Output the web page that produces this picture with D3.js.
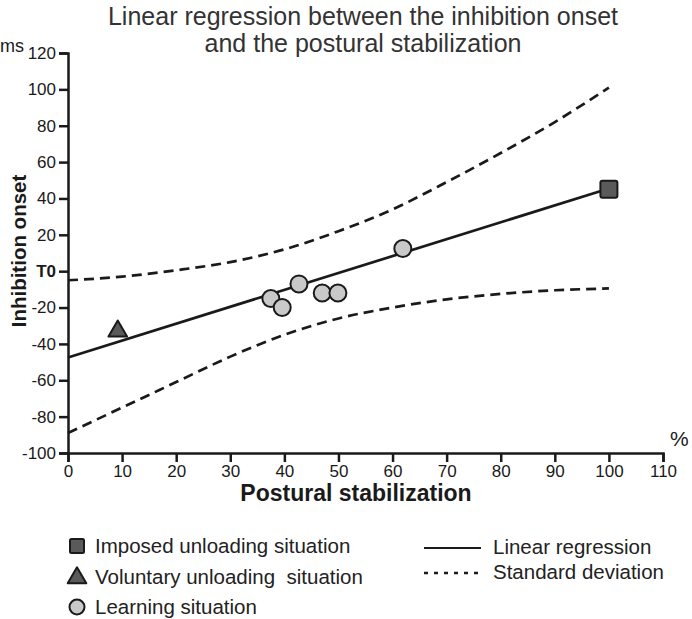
<!DOCTYPE html>
<html>
<head>
<meta charset="utf-8">
<script src="https://cdn.jsdelivr.net/npm/d3@7"></script>
<style>
  html, body { margin: 0; padding: 0; background: #fff; }
  svg { display: block; font-family: "Liberation Sans", Arial, sans-serif; }
</style>
</head>
<body>
<svg id="chart" width="692" height="619"></svg>
<script>
// ---- data ----
const xTicks = [0, 10, 20, 30, 40, 50, 60, 70, 80, 90, 100, 110];
const yTicks = [-100, -80, -60, -40, -20, 0, 20, 40, 60, 80, 100, 120];
const yTickLabels = ["-100", "-80", "-60", "-40", "-20", "T0", "20", "40", "60", "80", "100", "120"];

const imposedPoints = [{ x: 100, y: 45 }];
const voluntaryPoints = [{ x: 9.2, y: -33 }];
const learningPoints = [
  { x: 37.5, y: -15 },
  { x: 39.6, y: -20 },
  { x: 42.7, y: -7 },
  { x: 47.0, y: -12 },
  { x: 49.9, y: -12 },
  { x: 61.9, y: 12.5 }
];

const regressionX = [0, 100];
const regressionY = [-47.5, 45.5];

const bandX = [0, 10, 20, 30, 40, 50, 60, 70, 80, 90, 100];
const upperBand = [-5, -3, 0.5, 5, 12, 22, 34, 49, 65, 82, 101];
const lowerBand = [-89, -75, -61, -47, -35, -26, -20, -15.5, -12.5, -10.5, -9.5];

const titleLines = ["Linear regression between the inhibition onset", "and the postural stabilization"];
const legendMarkers = ["Imposed unloading situation", "Voluntary unloading  situation", "Learning situation"];
const legendLines = ["Linear regression", "Standard deviation"];

// ---- drawing ----
const svg = d3.select("#chart");
const x = d3.scaleLinear().domain([0, 110]).range([68, 663]);
const y = d3.scaleLinear().domain([-100, 120]).range([453, 53]);

const ink = "#1a1a1a";
const darkFill = "#5a5a5a";
const lightFill = "#c9c9c9";

// title
svg.append("g").selectAll("text").data(titleLines).join("text")
  .attr("x", 363).attr("y", (d, i) => 25 + i * 27)
  .attr("text-anchor", "middle")
  .attr("font-size", 25).attr("fill", "#333")
  .text(d => d);

// y axis
const yAxis = d3.axisLeft(y).tickValues(yTicks)
  .tickFormat((d, i) => yTickLabels[i]).tickSize(9).tickPadding(3);
const gy = svg.append("g").attr("transform", `translate(${x(0)},0)`).call(yAxis);
gy.select(".domain").attr("stroke", ink).attr("stroke-width", 2.5);
gy.selectAll(".tick line").attr("stroke", ink).attr("stroke-width", 2.5);
gy.selectAll(".tick text").attr("font-size", 17).attr("fill", ink)
  .attr("font-family", "'Liberation Sans', Arial, sans-serif")
  .attr("font-weight", d => d === 0 ? "bold" : "normal");

// x axis
const xAxis = d3.axisBottom(x).tickValues(xTicks).tickSize(9).tickPadding(3);
const gx = svg.append("g").attr("transform", `translate(0,${y(-100)})`).call(xAxis);
gx.select(".domain").attr("stroke", ink).attr("stroke-width", 2.5);
gx.selectAll(".tick line").attr("stroke", ink).attr("stroke-width", 2.5);
gx.selectAll(".tick text").attr("font-size", 17).attr("fill", ink)
  .attr("font-family", "'Liberation Sans', Arial, sans-serif");

// axis unit labels
svg.append("text").attr("x", 0).attr("y", 52).attr("font-size", 18).attr("fill", ink).text("ms");
svg.append("text").attr("x", 670).attr("y", 446).attr("font-size", 21).attr("fill", ink).text("%");

// axis titles
svg.append("text").attr("x", 356).attr("y", 501).attr("text-anchor", "middle")
  .attr("font-size", 23).attr("font-weight", "bold").attr("fill", ink)
  .text("Postural stabilization");
svg.append("text").attr("transform", "translate(26,251) rotate(-90)")
  .attr("text-anchor", "middle")
  .attr("font-size", 20.5).attr("font-weight", "bold").attr("fill", ink)
  .text("Inhibition onset");

// bands
const bandLine = d3.line().x(d => x(d[0])).y(d => y(d[1])).curve(d3.curveMonotoneX);
[upperBand, lowerBand].forEach(arr => {
  svg.append("path").datum(bandX.map((v, i) => [v, arr[i]]))
    .attr("d", bandLine).attr("fill", "none").attr("stroke", ink)
    .attr("stroke-width", 2.7).attr("stroke-dasharray", "10,6");
});

// regression line
svg.append("path").datum(regressionX.map((v, i) => [v, regressionY[i]]))
  .attr("d", d3.line().x(d => x(d[0])).y(d => y(d[1])))
  .attr("fill", "none").attr("stroke", ink).attr("stroke-width", 2.7);

// markers
const sq = 17;
svg.append("g").selectAll("rect").data(imposedPoints).join("rect")
  .attr("x", d => x(d.x) - sq / 2).attr("y", d => y(d.y) - sq / 2)
  .attr("width", sq).attr("height", sq).attr("rx", 2)
  .attr("fill", darkFill).attr("stroke", ink).attr("stroke-width", 2);

const tri = d3.symbol().type(d3.symbolTriangle).size(150);
svg.append("g").selectAll("path").data(voluntaryPoints).join("path")
  .attr("d", tri).attr("transform", d => `translate(${x(d.x)},${y(d.y)})`)
  .attr("fill", darkFill).attr("stroke", ink).attr("stroke-width", 2)
  .attr("stroke-linejoin", "round");

svg.append("g").selectAll("circle").data(learningPoints).join("circle")
  .attr("cx", d => x(d.x)).attr("cy", d => y(d.y)).attr("r", 8.5)
  .attr("fill", lightFill).attr("stroke", ink).attr("stroke-width", 2);

// legend
const lg = svg.append("g");
const legY = [546, 577, 607];
lg.append("rect").attr("x", 70).attr("y", legY[0] - 7).attr("width", 14).attr("height", 14).attr("rx", 1.5)
  .attr("fill", darkFill).attr("stroke", ink).attr("stroke-width", 2);
lg.append("path").attr("d", d3.symbol().type(d3.symbolTriangle).size(150))
  .attr("transform", `translate(77,${legY[1] + 1})`)
  .attr("fill", darkFill).attr("stroke", ink).attr("stroke-width", 2).attr("stroke-linejoin", "round");
lg.append("circle").attr("cx", 77).attr("cy", legY[2]).attr("r", 7.5)
  .attr("fill", lightFill).attr("stroke", ink).attr("stroke-width", 2);
lg.selectAll("text.m").data(legendMarkers).join("text").attr("class", "m")
  .attr("x", 95).attr("y", (d, i) => legY[i]).attr("dy", "0.35em")
  .attr("font-size", 20.5).attr("fill", "#222").style("white-space", "pre")
  .text(d => d);

const lineLegY = [548, 573];
lg.append("line").attr("x1", 424).attr("x2", 481).attr("y1", lineLegY[0]).attr("y2", lineLegY[0])
  .attr("stroke", ink).attr("stroke-width", 2);
lg.append("line").attr("x1", 424).attr("x2", 481).attr("y1", lineLegY[1]).attr("y2", lineLegY[1])
  .attr("stroke", ink).attr("stroke-width", 2.5).attr("stroke-dasharray", "4,6");
lg.selectAll("text.l").data(legendLines).join("text").attr("class", "l")
  .attr("x", 493).attr("y", (d, i) => lineLegY[i] - 1).attr("dy", "0.35em")
  .attr("font-size", 20.5).attr("fill", "#222")
  .text(d => d);
</script>
</body>
</html>
